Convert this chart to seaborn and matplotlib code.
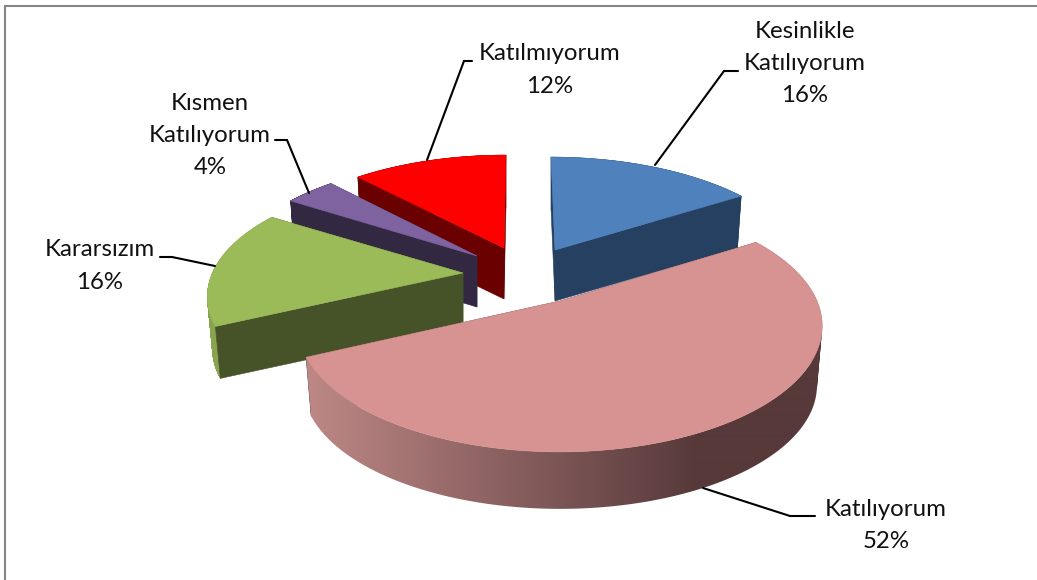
import numpy as np
import matplotlib
matplotlib.use("Agg")
import matplotlib.pyplot as plt
from matplotlib.colors import LinearSegmentedColormap
from matplotlib.patches import PathPatch
from matplotlib.path import Path
import seaborn as sns

categories = ["Kesinlikle\nKatılıyorum", "Katılıyorum", "Kararsızım", "Kısmen\nKatılıyorum", "Katılmıyorum"]
percents = [16, 52, 16, 4, 12]

top_colors = ["#4f81bd", "#d79391", "#9bbb59", "#7f62a0", "#ff0000"]
wall_colors = ["#264061", "#57393a", "#465228", "#332841", "#6a0000"]
rim_colors = ["#264061", "#57393a", "#8aa34f", "#332841", "#6a0000"]
sns.set_theme(style="white")
palette_top = sns.color_palette(top_colors)
palette_wall = sns.color_palette(wall_colors)
palette_rim = sns.color_palette(rim_colors)
plt.rcParams['font.family'] = ['Lato', 'DejaVu Sans']

# layout of each exploded slice, in pixels of the picture
apex_x = [555, 560, 463, 477, 504]
apex_y = [250, 301, 273, 256, 248]
scale_x = [0.96, 1.0, 0.975, 0.95, 0.96]
scale_y = [0.92, 1.0, 0.95, 0.94, 0.92]
lean = [-4, 0, 0, 0, 2]
depth = [51, 60, 53, 51, 51]
draw_order = [0, 4, 3, 2, 1]
front_cut = [-1, None, 0, 0, 0]   # which cut face of the slice faces the viewer

AX, AY, PERSP, BASE = 257.0, 121.0, 0.198, 0.98

label_x = [805, 886, 100, 210, 550]
label_top = [31, 509, 250, 103, 54]
leader_x = [[655, 724, 738], [703, 790, 815], [215, 172, 160], [309, 287, 275], [427, 464, 472]]
leader_y = [[165, 71, 71], [488, 516, 516], [266, 257, 257], [193, 140, 140], [160, 61, 61]]
LINE_PX = 32.5

fig, ax = plt.subplots(figsize=(10.37, 5.8), dpi=100)
ax.set_position([0, 0, 1, 1])
ax.axis("off")


def project(i, theta, base=False):
    """Clockwise-from-top angle on the unit disc to picture pixels."""
    X, Y = np.sin(theta), np.cos(theta)
    w = 1 + PERSP * Y
    k = BASE if base else 1.0
    sx = apex_x[i] + k * (scale_x[i] * AX * X / w + lean[i] * Y)
    sy = apex_y[i] - k * scale_y[i] * AY * Y / w + (depth[i] if base else 0)
    return sx, sy


def rim_path(tx, ty, bx, by):
    """Swept rim as same-handed quads, so overlaps never cancel when filled."""
    parts = []
    for j in range(len(tx) - 1):
        q = np.array([[tx[j], ty[j]], [tx[j + 1], ty[j + 1]], [bx[j + 1], by[j + 1]], [bx[j], by[j]]])
        x, y = q[:, 0], q[:, 1]
        area = np.dot(x, np.roll(y, -1)) - np.dot(y, np.roll(x, -1))
        if area < 0:
            q = q[::-1]
        parts.append(Path(np.vstack([q, q[0]]), closed=True))
    return Path.make_compound_path(*parts)


fractions = np.array(percents, dtype=float) / sum(percents)
edges = np.concatenate([[0], np.cumsum(fractions)]) * 2 * np.pi

rim_cmap = LinearSegmentedColormap.from_list("rim", ["#bc8785", wall_colors[1]])


def cut_face(i, k, tx, ty, bx, by):
    ax.fill([apex_x[i], tx[k], bx[k], apex_x[i]],
            [apex_y[i], ty[k], by[k], apex_y[i] + depth[i]],
            color=palette_wall[i], lw=0.4)


for i in draw_order:
    th = np.linspace(edges[i], edges[i + 1], 200)
    tx, ty = project(i, th)
    bx, by = project(i, th, base=True)

    # the cut faces turned away go first, the rim then hides them
    for k in (-1, 0):
        if k != front_cut[i]:
            cut_face(i, k, tx, ty, bx, by)

    path = rim_path(tx, ty, bx, by)
    if i == 1:
        grad = np.clip((np.linspace(300, 830, 530) - 311) / (700 - 311), 0, 1)[None, :]
        im = ax.imshow(grad, extent=[300, 830, 530, 200], cmap=rim_cmap, vmin=0, vmax=1,
                       aspect="auto", interpolation="bilinear", zorder=1)
        outline = PathPatch(path, transform=ax.transData, fc="none", ec="none")
        ax.add_patch(outline)
        im.set_clip_path(outline)
    else:
        ax.add_patch(PathPatch(path, fc=palette_rim[i], ec=palette_rim[i], lw=0.3))

    if front_cut[i] is not None:
        cut_face(i, front_cut[i], tx, ty, bx, by)

    # top face
    ax.fill(np.r_[apex_x[i], tx], np.r_[apex_y[i], ty], color=palette_top[i], lw=0.4)

for i in range(len(categories)):
    ax.plot(leader_x[i], leader_y[i], color="black", lw=1.5, solid_joinstyle="miter", zorder=5)
    lines = categories[i].split("\n") + [f"{percents[i]}%"]
    for n, s in enumerate(lines):
        ax.text(label_x[i], label_top[i] + n * LINE_PX, s, ha="center", va="center",
                fontsize=17.3, color="#111111", zorder=6)

# chart frame
ax.plot([5, 5, 1037], [580, 5.5, 5.5], color="#868686", lw=1.5, clip_on=False, solid_joinstyle="miter")

ax.set_xlim(0, 1037)
ax.set_ylim(580, 0)
fig.savefig("out.png", dpi=100, facecolor="white")
